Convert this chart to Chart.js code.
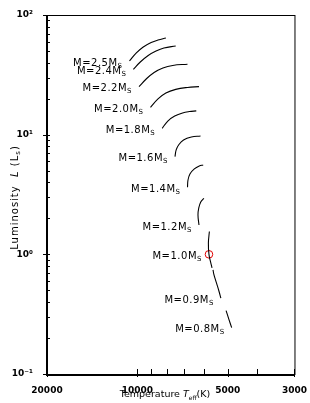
<!DOCTYPE html>
<html>
<head>
<meta charset="utf-8">
<script src="https://cdn.jsdelivr.net/npm/chart.js@4.4.0/dist/chart.umd.min.js"></script>
<style>
  html, body { margin: 0; padding: 0; background: #fff; }
  #wrap { width: 310px; height: 403px; }
</style>
</head>
<body>
<div id="wrap"><canvas id="hrCanvas"></canvas></div>
<script>
// evolutionary tracks (T in K, L in solar units), low L first
const masses = ['2.5', '2.4', '2.2', '2.0', '1.8', '1.6', '1.4', '1.2', '1.0', '0.9', '0.8'];

const t25 = [10626, 10082, 9562, 9000, 8540, 8040];
const l25 = [41.3, 48.2, 54.0, 58.9, 61.8, 64.2];
const t24 = [10314, 9782, 9206, 8670, 8162, 7456];
const l24 = [35.2, 40.5, 45.9, 50.0, 53.0, 55.1];
const t22 = [9878, 9348, 8800, 8224, 7630, 6812];
const l22 = [25.2, 29.2, 33.1, 36.1, 37.9, 38.8];
const t20 = [9046, 8540, 8040, 7456, 6812, 6238];
const l20 = [16.9, 19.9, 22.3, 23.9, 24.8, 25.2];
const t18 = [8268, 7922, 7514, 7074, 6712, 6368];
const l18 = [11.3, 13.0, 14.3, 15.2, 15.6, 15.8];
const t16 = [7498, 7430, 7292, 7022, 6612, 6164];
const l16 = [6.55, 7.46, 8.20, 9.03, 9.57, 9.75];
const t14 = [6812, 6786, 6686, 6464, 6224, 6040];
const l14 = [3.64, 4.18, 4.69, 5.17, 5.47, 5.58];
const t12 = [6238, 6286, 6248, 6154, 6008];
const l12 = [1.76, 2.13, 2.44, 2.74, 2.94];
const t10 = [5644, 5708, 5778, 5804, 5760];
const l10 = [0.770, 0.864, 1.00, 1.245, 1.55];
const t09 = [5274, 5354, 5456, 5560, 5602];
const l09 = [0.430, 0.494, 0.577, 0.673, 0.741];
const t08 = [4856, 4966, 5068];
const l08 = [0.244, 0.289, 0.339];

// the Sun
const sunT = [5778];
const sunL = [1.0];

const xTicks = [20000, 10000, 9000, 8000, 7000, 6000, 5000, 4000, 3000];
const xLabels = [20000, 10000, 5000, 3000];
const yMajor = [0.1, 1, 10, 100];
const yLabels = ['10\u207B\u00B9', '10\u2070', '10\u00B9', '10\u00B2'];

const tracks = [
    [t25, l25], [t24, l24], [t22, l22], [t20, l20], [t18, l18], [t16, l16],
    [t14, l14], [t12, l12], [t10, l10], [t09, l09], [t08, l08]
];
// which point of each track the mass label sits next to
const labelIdx = [0, 0, 0, 0, 0, 0, 0, 0, 2, 0, 0];

const toPoints = (ts, ls) => ts.map((t, i) => ({ x: t, y: ls[i] }));

const datasets = tracks.map(([ts, ls], i) => ({
    label: 'M=' + masses[i],
    data: toPoints(ts, ls),
    showLine: true,
    borderColor: '#000',
    borderWidth: 1.1,
    pointRadius: 0,
    tension: 0.4
}));
datasets.push({
    label: 'Sun',
    data: toPoints(sunT, sunL),
    showLine: false,
    pointRadius: 3.8,
    pointStyle: 'circle',
    borderColor: '#e00000',
    borderWidth: 1,
    backgroundColor: 'rgba(0,0,0,0)'
});

function yMinorTicks() {
    const out = [];
    for (let e = -1; e < 2; e++) {
        for (let k = 1; k < 10; k++) out.push(k * Math.pow(10, e));
    }
    out.push(100);
    return out;
}

// subscripted text helper: parts = [[text, sub?, italic?], ...]
function drawParts(ctx, parts, x, y, align, base, small) {
    const fontFor = p => (p[2] ? 'italic ' : '') + (p[1] ? small : base) + 'px "DejaVu Sans"';
    let total = 0;
    parts.forEach(p => { ctx.font = fontFor(p); total += ctx.measureText(p[0]).width; });
    let cx = align === 'right' ? x - total : align === 'center' ? x - total / 2 : x;
    parts.forEach(p => {
        ctx.font = fontFor(p);
        ctx.fillText(p[0], cx, p[1] ? y + 3 : y);
        cx += ctx.measureText(p[0]).width;
    });
}

const framePlugin = {
    id: 'frame',
    afterDatasetsDraw(chart) {
        const { ctx, chartArea: a, scales } = chart;
        const xs = scales.x, ys = scales.y;
        ctx.save();
        ctx.strokeStyle = '#000';
        ctx.lineWidth = 1;
        ctx.strokeRect(a.left + 0.5, a.top + 0.5, a.right - a.left, a.bottom - a.top);
        ctx.lineWidth = 2;
        ctx.beginPath();
        ctx.moveTo(a.left, a.top); ctx.lineTo(a.left, a.bottom + 1); ctx.lineTo(a.right, a.bottom + 1);
        ctx.stroke();

        // ticks
        ctx.lineWidth = 1;
        ctx.beginPath();
        yMinorTicks().forEach(v => {
            const py = Math.round(ys.getPixelForValue(v)) + 0.5;
            const major = yMajor.includes(v);
            ctx.moveTo(a.left - (major ? 4 : 0), py);
            ctx.lineTo(a.left + 3, py);
        });
        xTicks.forEach(v => {
            const px = Math.round(xs.getPixelForValue(v)) + 0.5;
            const major = xLabels.includes(v);
            ctx.moveTo(px, a.bottom + (major ? 3 : 0));
            ctx.lineTo(px, a.bottom - 5);
        });
        ctx.stroke();

        // mass labels
        ctx.fillStyle = '#000';
        ctx.textBaseline = 'middle';
        ctx.letterSpacing = '0.5px';
        tracks.forEach(([ts, ls], i) => {
            const k = labelIdx[i];
            const px = xs.getPixelForValue(ts[k]);
            const py = ys.getPixelForValue(ls[k]);
            drawParts(ctx, [['M=' + masses[i] + 'M'], ['S', true]], px - 7, py + 2, 'right', 10, 7);
        });

        // axis titles
        ctx.letterSpacing = '0px';
        drawParts(ctx, [['Temperature '], ['T', false, true], ['eff', true], ['(K)']],
            165, 395, 'center', 9.5, 6);
        ctx.letterSpacing = '1px';
        ctx.translate(15, (a.top + a.bottom) / 2 + 3);
        ctx.rotate(-Math.PI / 2);
        drawParts(ctx, [['Luminosity  '], ['L', false, true], [' (L'], ['s', true], [')']], 0, 0, 'center', 10, 7);
        ctx.restore();
    }
};

new Chart(document.getElementById('hrCanvas'), {
    type: 'scatter',
    data: { datasets },
    options: {
        responsive: true,
        maintainAspectRatio: false,
        animation: false,
        layout: { padding: { top: 15, right: 11, left: 0, bottom: 0 } },
        plugins: { legend: { display: false }, tooltip: { enabled: false } },
        scales: {
            x: {
                type: 'logarithmic',
                reverse: true,
                min: 3000,
                max: 20000,
                afterBuildTicks: s => { s.ticks = xTicks.map(v => ({ value: v })); },
                afterFit: s => { s.height = 29; },
                grid: { display: false },
                border: { display: false },
                ticks: {
                    autoSkip: false,
                    maxRotation: 0,
                    padding: 3,
                    color: '#000',
                    font: { family: 'DejaVu Sans', size: 9, weight: 'bold' },
                    callback: v => xLabels.includes(v) ? String(v) : ''
                }
            },
            y: {
                type: 'logarithmic',
                min: 0.1,
                max: 100,
                afterBuildTicks: s => { s.ticks = yMajor.map(v => ({ value: v })); },
                afterFit: s => { s.width = 47; },
                grid: { display: false },
                border: { display: false },
                ticks: {
                    autoSkip: false,
                    padding: 6,
                    color: '#000',
                    font: { family: 'DejaVu Sans', size: 9, weight: 'bold' },
                    callback: v => yLabels[yMajor.indexOf(v)] || ''
                }
            }
        }
    },
    plugins: [framePlugin]
});
</script>
</body>
</html>
